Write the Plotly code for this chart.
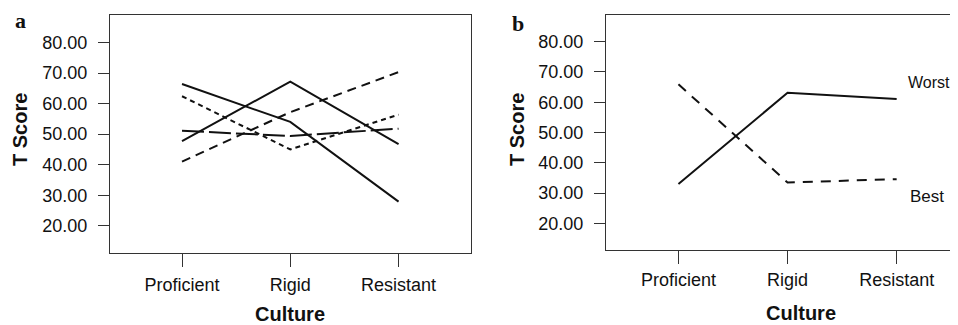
import plotly.graph_objects as go

categories = ["Proficient", "Rigid", "Resistant"]

# Panel a series
a_solid1 = [66.4, 54.0, 27.9]
a_solid2 = [47.7, 67.2, 46.7]
a_short = [62.4, 45.0, 56.4]
a_medium = [41.0, 57.2, 70.3]
a_long = [51.1, 49.4, 51.8]

# Panel b series
b_worst = [33.0, 63.1, 61.1]
b_best = [65.9, 33.5, 34.6]

y_ticks = [20, 30, 40, 50, 60, 70, 80]
y_ticklabels = ["20.00", "30.00", "40.00", "50.00", "60.00", "70.00", "80.00"]

# the page body has an 8px margin; size the figure to fit inside the window
OFF = 8
W, H = 958 - 2 * OFF, 325 - OFF
FONT = "Liberation Sans, Arial, Helvetica, sans-serif"
INK = "#111111"
AX = "#333333"


def px_x(p):
    return (p - OFF) / W


def px_y(p):
    return 1 - (p - OFF) / H


fig = go.Figure()

series_a = [
    (a_solid1, "solid"),
    (a_solid2, "solid"),
    (a_short, "5px,4px"),
    (a_medium, "9px,6px"),
    (a_long, "22px,5px"),
]
for vals, dash in series_a:
    fig.add_trace(go.Scatter(x=categories, y=vals, mode="lines",
                             line=dict(color=INK, width=2, dash=dash),
                             xaxis="x", yaxis="y", showlegend=False))

for vals, dash in [(b_worst, "solid"), (b_best, "10px,8px")]:
    fig.add_trace(go.Scatter(x=categories, y=vals, mode="lines",
                             line=dict(color=INK, width=2, dash=dash),
                             xaxis="x2", yaxis="y2", showlegend=False))

xcommon = dict(type="category", showline=True, linecolor=AX, linewidth=1.3,
               ticks="outside", ticklen=13, tickcolor=AX, tickwidth=1.3,
               showgrid=False, zeroline=False,
               tickfont=dict(family=FONT, size=18, color=INK))
ycommon = dict(showline=True, linecolor=AX, linewidth=1.3,
               ticks="outside", ticklen=11, tickcolor=AX, tickwidth=1.3,
               showgrid=False, zeroline=False, ticklabelstandoff=7,
               tickvals=y_ticks, ticktext=y_ticklabels,
               tickfont=dict(family=FONT, size=18, color=INK))

# panel b's right edge lies just past the visible area in the reference
B_RIGHT = 958 - OFF
fig.update_layout(
    width=W, height=H,
    margin=dict(l=0, r=0, t=0, b=0),
    paper_bgcolor="white", plot_bgcolor="white",
    xaxis=dict(**xcommon, domain=[px_x(110), px_x(471)],
               range=[-0.665, 2.669], anchor="y", mirror=True,
               ticklabelstandoff=2),
    yaxis=dict(**ycommon, domain=[px_y(253), px_y(15)],
               range=[11.1, 89.0], anchor="x", mirror=True),
    xaxis2=dict(**xcommon, domain=[px_x(606), 1.0],
                range=[-0.664, 2 + (B_RIGHT - 896.7) / 109.0], anchor="y2",
                mirror=True),
    yaxis2=dict(**ycommon, domain=[px_y(250), px_y(15)],
                range=[11.2, 88.8], anchor="x2", mirror=False),
)

ann = []


def add_text(text, x, y, size, bold=False, family=FONT, angle=0, xanchor="center"):
    t = f"<b>{text}</b>" if bold else text
    ann.append(dict(text=t, x=px_x(x), y=px_y(y), xref="paper", yref="paper",
                    showarrow=False, textangle=angle, xanchor=xanchor,
                    yanchor="middle",
                    font=dict(family=family, size=size, color=INK)))


add_text("a", 20, 21, 22, bold=True, family="Liberation Serif, Times New Roman, serif")
add_text("b", 518, 23, 22, bold=True, family="Liberation Serif, Times New Roman, serif")
add_text("T Score", 20, 130, 20, bold=True, angle=-90)
add_text("T Score", 517, 130, 20, bold=True, angle=-90)
add_text("Culture", 290, 314, 20, bold=True)
add_text("Culture", 801, 313, 20, bold=True)
add_text("Worst", 906, 83, 16, xanchor="left")
add_text("Best", 908, 196, 17, xanchor="left")

fig.update_layout(annotations=ann)

fig.write_html("out.html")
